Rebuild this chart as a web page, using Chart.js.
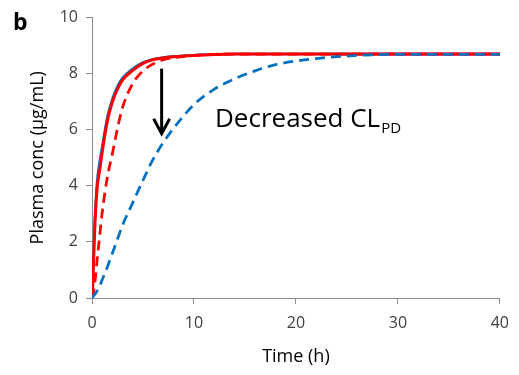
<!DOCTYPE html>
<html>
<head>
<meta charset="utf-8">
<script src="https://cdn.jsdelivr.net/npm/chart.js@4.4.1/dist/chart.umd.min.js"></script>
<style>
  html, body { margin: 0; padding: 0; background: #fff; }
  #wrap { width: 519px; height: 375px; }
</style>
</head>
<body>
<div id="wrap"><canvas id="pkChart" width="519" height="375"></canvas></div>
<script>
// time points (h) shared by all curves
const times = [0, 0.1, 0.25, 0.5, 0.75, 1, 1.5, 2, 2.5, 3, 4, 5, 6, 7, 8, 9, 10, 12, 14, 16, 18, 20, 22, 25, 28, 30, 35, 40];

// plasma concentration (ug/mL)
const solidRed   = [0, 0.7, 2.3, 3.9, 4.55, 5.2, 6.3, 7.0, 7.45, 7.78, 8.12, 8.37, 8.5, 8.56, 8.6, 8.63, 8.65, 8.68, 8.7, 8.7, 8.7, 8.7, 8.7, 8.7, 8.7, 8.7, 8.7, 8.7];
const solidBlue  = [0, 0.9, 2.6, 4.15, 4.85, 5.4, 6.45, 7.1, 7.55, 7.85, 8.18, 8.4, 8.52, 8.58, 8.62, 8.64, 8.66, 8.69, 8.7, 8.7, 8.7, 8.7, 8.7, 8.7, 8.7, 8.7, 8.7, 8.7];
const dashedRed  = [0, 0.15, 0.45, 1.35, 2.2, 3.05, 4.3, 5.15, 6.05, 6.8, 7.65, 8.1, 8.35, 8.5, 8.57, 8.62, 8.65, 8.69, 8.7, 8.7, 8.7, 8.7, 8.7, 8.7, 8.7, 8.7, 8.7, 8.7];
const dashedBlue = [0, 0.05, 0.12, 0.25, 0.42, 0.65, 1.1, 1.6, 2.1, 2.6, 3.4, 4.2, 4.95, 5.55, 6.05, 6.5, 6.9, 7.45, 7.82, 8.1, 8.32, 8.45, 8.54, 8.63, 8.68, 8.69, 8.69, 8.69];

const xTicks = [0, 10, 20, 30, 40];
const yTicks = [0, 2, 4, 6, 8, 10];

// arrow annotation (data units) and label
const arrowX = 6.83, arrowFrom = 8.18, arrowTo = 5.86;
const noteMain = 'Decreased CL';
const noteSub = 'PD';
const panelLetter = 'b';

function pts(ys) {
    return times.map((t, i) => ({ x: t, y: ys[i] }));
}

const FONT = '"Open Sans", "Liberation Sans", sans-serif';
const AXIS_GREY = '#8c8c8c';

const annotate = {
    id: 'annotate',
    afterDatasetsDraw(chart) {
        const { ctx, scales } = chart;
        const x = scales.x.getPixelForValue(arrowX);
        const y1 = scales.y.getPixelForValue(arrowFrom);
        const y2 = scales.y.getPixelForValue(arrowTo);
        ctx.save();
        ctx.strokeStyle = '#000';
        ctx.lineWidth = 3;
        ctx.beginPath();
        ctx.moveTo(x, y1);
        ctx.lineTo(x, y2 - 1);
        ctx.stroke();
        ctx.beginPath();
        ctx.moveTo(x - 8, y2 - 15);
        ctx.lineTo(x, y2);
        ctx.lineTo(x + 8, y2 - 15);
        ctx.stroke();

        ctx.fillStyle = '#000';
        ctx.textBaseline = 'alphabetic';
        ctx.font = '26px ' + FONT;
        ctx.fillText(noteMain, 215, 127);
        const w = ctx.measureText(noteMain).width;
        ctx.font = '15px ' + FONT;
        ctx.fillText(noteSub, 215 + w + 1, 133);

        ctx.font = 'bold 23px ' + FONT;
        ctx.fillText(panelLetter, 13, 30);
        ctx.restore();
    }
};

const ctx = document.getElementById('pkChart').getContext('2d');
const pkChart = new Chart(ctx, {
    type: 'line',
    data: {
        datasets: [
            { label: 'dashed blue', data: pts(dashedBlue), borderColor: '#0070c0', borderWidth: 2.75, borderDash: [10, 6] },
            { label: 'solid red', data: pts(solidRed), borderColor: '#ff0000', borderWidth: 3 },
            { label: 'dashed red', data: pts(dashedRed), borderColor: '#ff0000', borderWidth: 2.75, borderDash: [10, 6] },
            { label: 'solid blue', data: pts(solidBlue), borderColor: '#0070c0', borderWidth: 2.5 },
        ],
    },
    options: {
        responsive: false,
        animation: false,
        events: [],
        elements: {
            point: { radius: 0 },
            line: { cubicInterpolationMode: 'monotone', fill: false },
        },
        layout: { padding: { top: 12, right: 14 } },
        plugins: { legend: { display: false }, tooltip: { enabled: false } },
        scales: {
            x: {
                type: 'linear',
                min: 0,
                max: 40,
                afterBuildTicks: (axis) => { axis.ticks = xTicks.map(v => ({ value: v })); },
                afterFit: (axis) => { axis.height = 77; },
                ticks: { color: '#404040', font: { family: FONT, size: 16 }, padding: 10, maxRotation: 0 },
                grid: { drawOnChartArea: false, tickLength: 6, color: AXIS_GREY },
                border: { color: AXIS_GREY, width: 1 },
                title: { display: true, text: 'Time (h)', color: '#000', font: { family: FONT, size: 18 }, padding: { top: 0, bottom: 7 } },
            },
            y: {
                min: 0,
                max: 10,
                afterBuildTicks: (axis) => { axis.ticks = yTicks.map(v => ({ value: v })); },
                afterFit: (axis) => { axis.width = 92; },
                ticks: { color: '#404040', font: { family: FONT, size: 16 }, padding: 8 },
                grid: { drawOnChartArea: false, tickLength: 6, color: AXIS_GREY },
                border: { color: AXIS_GREY, width: 1 },
                title: { display: true, text: 'Plasma conc (µg/mL)', color: '#000', font: { family: FONT, size: 18 }, padding: { top: 27, bottom: 0 } },
            },
        },
    },
    plugins: [annotate],
});
</script>
</body>
</html>
